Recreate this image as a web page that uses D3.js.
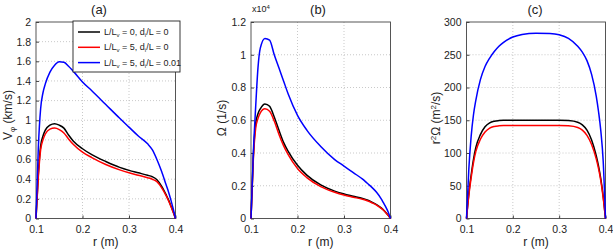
<!DOCTYPE html>
<html>
<head>
<meta charset="utf-8">
<script src="https://cdn.jsdelivr.net/npm/d3@7"></script>
<style>
body { margin: 0; background: #fff; }
text { font-family: "Liberation Sans", Arial, sans-serif; fill: #222; }
</style>
</head>
<body>
<svg id="chart" width="613" height="252"></svg>
<script>
// radius grid shared by all curves (m)
var rGrid = [0.1, 0.105, 0.11, 0.115, 0.12, 0.13, 0.14, 0.15, 0.16, 0.17, 0.18, 0.2, 0.22, 0.25, 0.28, 0.3, 0.32, 0.34, 0.35, 0.36, 0.37, 0.38, 0.385, 0.39, 0.395, 0.4];

// (a) V_phi (km/s)
var vBlack = [0, 0.45, 0.74, 0.84, 0.9, 0.95, 0.965, 0.95, 0.92, 0.85, 0.79, 0.71, 0.65, 0.58, 0.52, 0.49, 0.465, 0.44, 0.425, 0.395, 0.33, 0.24, 0.19, 0.13, 0.07, 0];
var vRed   = [0, 0.42, 0.7, 0.8, 0.86, 0.91, 0.92, 0.905, 0.87, 0.81, 0.755, 0.675, 0.62, 0.55, 0.495, 0.465, 0.44, 0.415, 0.4, 0.375, 0.315, 0.23, 0.18, 0.125, 0.065, 0];
var vBlue  = [0, 0.72, 1.12, 1.28, 1.37, 1.49, 1.56, 1.595, 1.59, 1.55, 1.5, 1.39, 1.3, 1.16, 1.02, 0.93, 0.84, 0.76, 0.7, 0.6, 0.48, 0.34, 0.27, 0.19, 0.1, 0];

// (b) Omega (x10^4 1/s)
var wBlack = [0, 0.38, 0.58, 0.64, 0.67, 0.7, 0.685, 0.62, 0.54, 0.465, 0.41, 0.325, 0.265, 0.205, 0.167, 0.15, 0.136, 0.122, 0.113, 0.1, 0.085, 0.065, 0.052, 0.037, 0.02, 0];
var wRed   = [0, 0.36, 0.55, 0.61, 0.645, 0.67, 0.655, 0.595, 0.515, 0.445, 0.39, 0.305, 0.25, 0.195, 0.16, 0.143, 0.13, 0.117, 0.108, 0.096, 0.082, 0.062, 0.05, 0.035, 0.019, 0];
var wBlue  = [0, 0.4, 0.68, 0.92, 1.04, 1.1, 1.09, 1.0, 0.92, 0.84, 0.76, 0.63, 0.54, 0.44, 0.36, 0.32, 0.28, 0.24, 0.215, 0.19, 0.16, 0.12, 0.095, 0.07, 0.04, 0];

// (c) r^2 Omega (m^2/s)
var aBlack = [0, 38, 66, 90, 108, 128, 140, 146, 148.5, 149.5, 150, 150, 150, 150, 150, 150, 149.5, 147, 143, 135, 120, 96, 80, 60, 34, 0];
var aRed   = [0, 35, 62, 85, 102, 121, 132, 138, 140.5, 141.5, 142, 142, 142, 142, 142, 142, 141.5, 139, 135, 127, 113, 91, 76, 57, 32, 0];
var aBlue  = [0, 75, 125, 158, 180, 212, 232, 245, 255, 263, 269, 277, 281, 283, 282.5, 280.5, 275, 263, 254, 241, 220, 187, 163, 133, 88, 0];

var xTicks = [0.1, 0.2, 0.3, 0.4];
var seriesColors = ["#000", "#f00", "#00f"];
var legendLabels = [["0", "0"], ["5", "0"], ["5", "0.01"]];

var svg = d3.select("#chart");

var panels = [
  { left: 36, right: 175.5, title: "(a)", titleX: 99, yMax: 2, yTicks: d3.range(0, 2.01, 0.2), series: [vBlack, vRed, vBlue], ylab: "a", ylabX: 12, ylabY: 115 },
  { left: 251, right: 390.5, title: "(b)", titleX: 318, yMax: 1.2, yTicks: d3.range(0, 1.21, 0.2), series: [wBlack, wRed, wBlue], ylab: "b", ylabX: 226, ylabY: 118 },
  { left: 466.5, right: 605.5, title: "(c)", titleX: 535, yMax: 300, yTicks: d3.range(0, 301, 50), series: [aBlack, aRed, aBlue], ylab: "c", ylabX: 440, ylabY: 118 }
];
var plotTop = 22, plotBottom = 218.5;

panels.forEach(function(p) {
  var x = d3.scaleLinear().domain([0.1, 0.4]).range([p.left, p.right]);
  var y = d3.scaleLinear().domain([0, p.yMax]).range([plotBottom, plotTop]);
  var g = svg.append("g");

  // grid
  g.selectAll(".vg").data(xTicks.slice(1, -1)).enter().append("line")
    .attr("x1", function(d) { return x(d); }).attr("x2", function(d) { return x(d); })
    .attr("y1", plotTop).attr("y2", plotBottom)
    .attr("stroke", "#bbb").attr("stroke-width", 0.8).attr("stroke-dasharray", "1,2");
  g.selectAll(".hg").data(p.yTicks.slice(1, -1)).enter().append("line")
    .attr("x1", p.left).attr("x2", p.right)
    .attr("y1", function(d) { return y(d); }).attr("y2", function(d) { return y(d); })
    .attr("stroke", "#bbb").attr("stroke-width", 0.8).attr("stroke-dasharray", "1,2");

  // axes (inward ticks)
  g.append("g").attr("transform", "translate(0," + plotBottom + ")")
    .call(d3.axisBottom(x).tickValues(xTicks).tickSizeInner(-3).tickSizeOuter(0).tickPadding(7).tickFormat(d3.format(".1f")))
    .call(function(a) { a.select(".domain").remove(); a.selectAll("line").attr("stroke", "#444"); a.selectAll("text").attr("font-size", 10.5).attr("fill", "#222"); });
  g.append("g").attr("transform", "translate(" + p.left + ",0)")
    .call(d3.axisLeft(y).tickValues(p.yTicks).tickSizeInner(-3).tickSizeOuter(0).tickPadding(5).tickFormat(function(d) { return d3.format("~g")(+d.toFixed(2)); }))
    .call(function(a) { a.select(".domain").remove(); a.selectAll("line").attr("stroke", "#444"); a.selectAll("text").attr("font-size", 10.5).attr("fill", "#222"); });

  g.append("rect").attr("x", p.left).attr("y", plotTop).attr("width", p.right - p.left).attr("height", plotBottom - plotTop)
    .attr("fill", "none").attr("stroke", "#444").attr("stroke-width", 0.9);

  // curves
  var line = d3.line().x(function(d, i) { return x(rGrid[i]); }).y(function(d) { return y(d); }).curve(d3.curveMonotoneX);
  p.series.forEach(function(s, k) {
    g.append("path").datum(s).attr("d", line).attr("fill", "none")
      .attr("stroke", seriesColors[k]).attr("stroke-width", 1.5);
  });

  g.append("text").attr("x", p.titleX).attr("y", 14).attr("text-anchor", "middle").attr("font-size", 13).text(p.title);
  g.append("text").attr("x", (p.left + p.right) / 2).attr("y", 246).attr("text-anchor", "middle").attr("font-size", 12).text("r (m)");

  var yl = g.append("text").attr("transform", "translate(" + p.ylabX + "," + p.ylabY + ") rotate(-90)")
    .attr("text-anchor", "middle").attr("font-size", 12);
  if (p.ylab === "a") {
    yl.append("tspan").text("V");
    yl.append("tspan").attr("font-size", 8).attr("dy", 3).text("φ");
    yl.append("tspan").attr("dy", -3).text(" (km/s)");
  } else if (p.ylab === "b") {
    yl.text("Ω (1/s)");
  } else {
    yl.append("tspan").text("r");
    yl.append("tspan").attr("font-size", 8).attr("dy", -4).text("2");
    yl.append("tspan").attr("dy", 4).text("Ω (m");
    yl.append("tspan").attr("font-size", 8).attr("dy", -4).text("2");
    yl.append("tspan").attr("dy", 4).text("/s)");
  }
});

// x10^4 multiplier for (b)
var mult = svg.append("text").attr("x", 252).attr("y", 12).attr("font-size", 9);
mult.append("tspan").text("x10");
mult.append("tspan").attr("font-size", 6).attr("dy", -3).text("4");

// legend in (a)
var lg = svg.append("g").attr("transform", "translate(73,21)");
lg.append("rect").attr("width", 107).attr("height", 51).attr("fill", "#fff").attr("stroke", "#222").attr("stroke-width", 0.9);
legendLabels.forEach(function(l, i) {
  var yy = 11 + i * 15.3;
  lg.append("line").attr("x1", 5).attr("x2", 27).attr("y1", yy).attr("y2", yy)
    .attr("stroke", seriesColors[i]).attr("stroke-width", 1.5);
  var t = lg.append("text").attr("x", 31).attr("y", yy + 3).attr("font-size", 9);
  t.append("tspan").text("L/L");
  t.append("tspan").attr("font-size", 6).attr("dy", 2).text("v");
  t.append("tspan").attr("dy", -2).text(" = " + l[0] + ", d");
  t.append("tspan").attr("font-size", 6).attr("dy", 2).text("i");
  t.append("tspan").attr("dy", -2).text("/L = " + l[1]);
});
</script>
</body>
</html>
